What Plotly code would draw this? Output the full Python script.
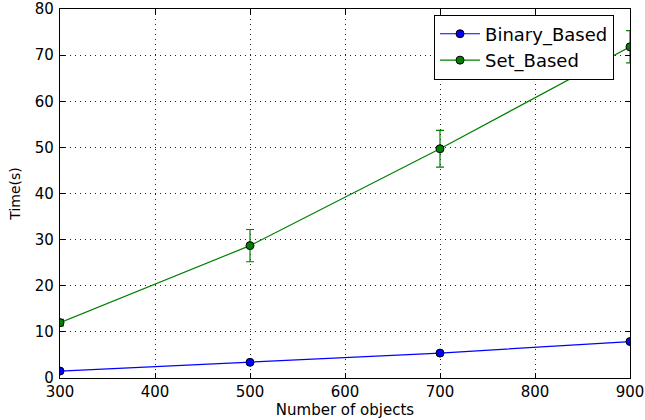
import plotly.graph_objects as go

objects = [300, 500, 700, 900]
binary_time = [1.5, 3.4, 5.4, 7.9]
binary_err = [0.2, 0.3, 0.3, 0.3]
set_time = [12.0, 28.7, 49.7, 71.8]
set_err = [0.7, 3.5, 4.0, 3.5]

fig = go.Figure()
fig.add_trace(go.Scatter(
    x=objects, y=binary_time, name="Binary_Based", mode="lines+markers",
    line=dict(color="#0000ff", width=1.2),
    marker=dict(color="#0000ff", size=8, line=dict(color="black", width=1)),
    error_y=dict(type="data", array=binary_err, color="#0000ff", thickness=1.2, width=4),
))
fig.add_trace(go.Scatter(
    x=objects, y=set_time, name="Set_Based", mode="lines+markers",
    line=dict(color="#008000", width=1.2),
    marker=dict(color="#008000", size=8, line=dict(color="black", width=1)),
    error_y=dict(type="data", array=set_err, color="#008000", thickness=1.2, width=4),
))

axis_common = dict(
    showline=True, linecolor="black", linewidth=1.2, mirror="ticks",
    ticks="inside", ticklen=5, tickcolor="black",
    showgrid=True, gridcolor="#222222", griddash="1px,4px", gridwidth=1.3,
    zeroline=False, automargin=False,
    tickfont=dict(family="DejaVu Sans", size=15, color="black"),
)
fig.update_xaxes(range=[300, 900], dtick=100, tick0=300, ticklabelstandoff=0,
                 title=dict(text="Number of objects", font=dict(family="DejaVu Sans", size=15, color="black"), standoff=2),
                 **axis_common)
fig.update_yaxes(range=[0, 80], dtick=10, ticklabelstandoff=2,
                 title=dict(text="Time(s)", font=dict(family="DejaVu Sans", size=14, color="black"), standoff=10),
                 **axis_common)

fig.update_layout(
    width=645, height=420,
    margin=dict(l=60, r=15, t=9, b=42),
    paper_bgcolor="white", plot_bgcolor="white",
    font=dict(family="DejaVu Sans", color="black"),
    legend=dict(x=0.972, y=0.985, xanchor="right", yanchor="top",
                bordercolor="black", borderwidth=1, bgcolor="white",
                font=dict(family="DejaVu Sans", size=18, color="black"),
                itemwidth=40, tracegroupgap=0),
    showlegend=True,
)

fig.write_html("out.html", config={"displayModeBar": False},
               post_script="document.body.style.margin='0';document.body.style.padding='0';")
